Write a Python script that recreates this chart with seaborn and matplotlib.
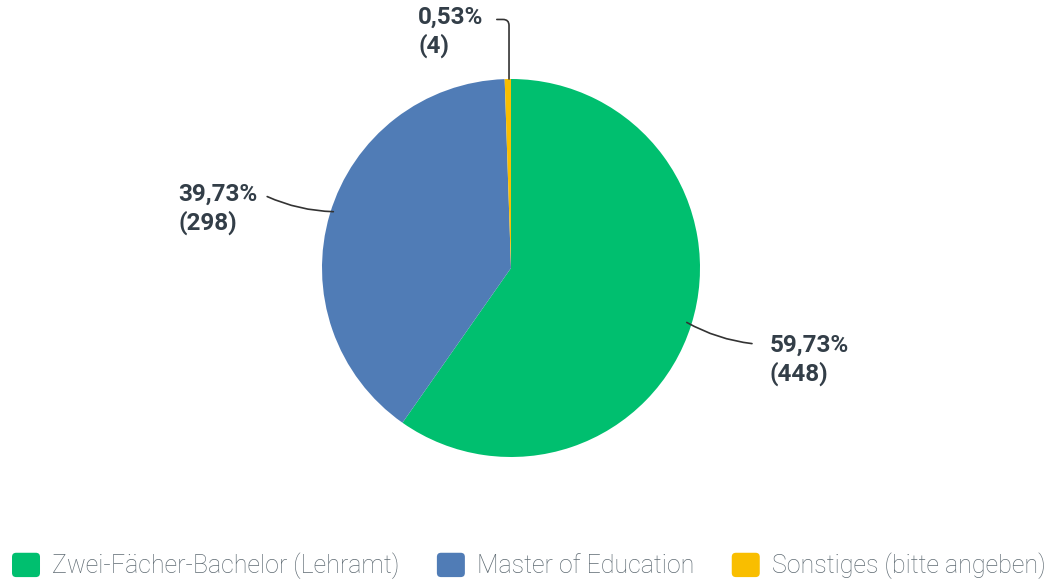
import matplotlib
matplotlib.use("Agg")
import matplotlib.pyplot as plt
from matplotlib.patches import FancyBboxPatch
from matplotlib.legend_handler import HandlerPatch
import seaborn as sns

# data
categories = ["Zwei-Fächer-Bachelor (Lehramt)", "Master of Education", "Sonstiges (bitte angeben)"]
counts = [448, 298, 4]
percents = ["59,73%", "39,73%", "0,53%"]
colors = ["#00bf6f", "#507cb6", "#f9be00"]

sns.set_theme(style="white")
plt.rcParams['font.family'] = ['Roboto', 'DejaVu Sans']

fig = plt.figure(figsize=(10.53, 5.86), dpi=100)
r = 189
ax = fig.add_axes([(511 - r) / 1053, (586 - 268 - r) / 586, 2 * r / 1053, 2 * r / 586])

wedges, _ = ax.pie(counts, colors=colors, startangle=90, counterclock=False,
                   wedgeprops=dict(linewidth=0))
ax.set_xlim(-1, 1)
ax.set_ylim(-1, 1)
ax.set_aspect("equal")
ax.axis("off")

lab_col = "#333e48"
# label text positions (left, top) and leader lines (start, end on slice), in pie units
text_pos = [(1.37, -0.35), (-1.76, 0.45), (-0.492, 1.385)]
line_from = [(1.275, -0.40), (-1.29, 0.378), (-0.075, 1.315)]
line_to = [(0.93, -0.288), (-0.94, 0.298), (-0.0105, 1.0)]
conn = ["arc3,rad=-0.1", "arc3,rad=0.1", "angle,angleA=0,angleB=90,rad=6"]

for i in range(len(counts)):
    ax.annotate("", xy=line_to[i], xytext=line_from[i], annotation_clip=False,
                arrowprops=dict(arrowstyle="-", color="#333333", lw=1.2,
                                connectionstyle=conn[i], shrinkA=0, shrinkB=0))
    ax.text(text_pos[i][0], text_pos[i][1], f"{percents[i]}\n({counts[i]})",
            ha="left", va="top", fontsize=17.5, fontweight="bold", color=lab_col,
            linespacing=1.25, clip_on=False)


def rounded_square(legend, orig_handle, xdescent, ydescent, width, height, fontsize):
    return FancyBboxPatch((-xdescent, -ydescent), width, height,
                          boxstyle="round,pad=0,rounding_size=3")


leg = fig.legend(wedges, categories, ncol=3, loc="center left",
                 bbox_to_anchor=(0.0114, 0.034), frameon=False, fontsize=18,
                 handlelength=1.12, handleheight=1.12, handletextpad=0.48,
                 columnspacing=1.5, borderpad=0, borderaxespad=0,
                 handler_map={w: HandlerPatch(patch_func=rounded_square) for w in wedges})
for t in leg.get_texts():
    t.set_color("#5f6b73")
    t.set_fontweight("light")

fig.savefig("out.png", dpi=100)
